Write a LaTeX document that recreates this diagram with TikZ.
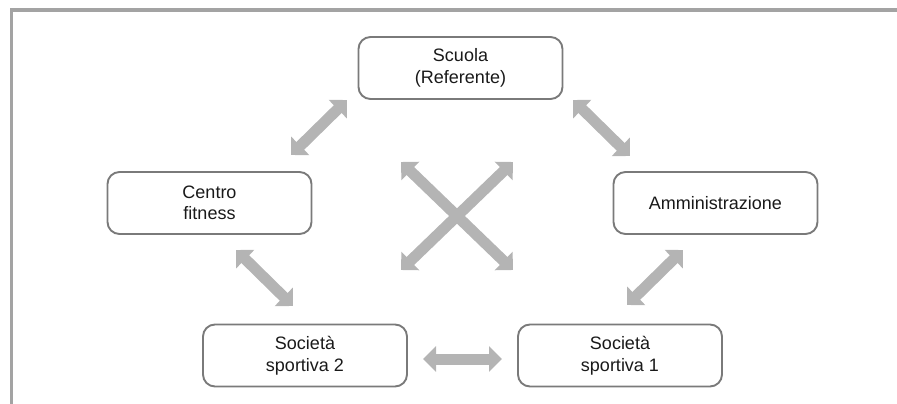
\documentclass[tikz,border=0pt]{standalone}
\usepackage{fontspec}
\setmainfont{Liberation Sans}
\usetikzlibrary{arrows.meta}
\definecolor{framegray}{HTML}{A3A3A3}
\definecolor{boxgray}{HTML}{7A7A7A}
\definecolor{arrowgray}{HTML}{B4B4B4}
\begin{document}
\begin{tikzpicture}[x=1pt,y=-1pt,
  entity/.style={draw=boxgray, line width=1.9pt, rounded corners=12pt,
    minimum width=204pt, minimum height=62pt, align=center,
    font=\fontsize{18}{21.5}\selectfont, text=black!90, inner sep=0pt},
  link/.style={draw=arrowgray, line width=11pt,
    {Triangle[length=13pt,width=25pt]}-{Triangle[length=13pt,width=25pt]}}]
  \useasboundingbox (0,0) rectangle (897,404);

  % open frame: top and left edges
  \draw[framegray, line width=3.5pt] (11.5,404) -- (11.5,10) -- (897,10);

  % organisations
  \node[entity] (scuola) at (460.5,68)  {Scuola\\(Referente)};
  \node[entity] (centro) at (209.5,203) {Centro\\fitness};
  \node[entity] (ammin)  at (715.5,203) {Amministrazione};
  \node[entity] (soc2)   at (305,355.5) {Società\\sportiva 2};
  \node[entity] (soc1)   at (620,355.5) {Società\\sportiva 1};

  % arrow ends
  \coordinate (sc-cf-a) at (347,100);  \coordinate (sc-cf-b) at (291,155);
  \coordinate (sc-am-a) at (573,100);  \coordinate (sc-am-b) at (630,156);
  \coordinate (cf-s2-a) at (236,250);  \coordinate (cf-s2-b) at (293,306);
  \coordinate (am-s1-a) at (683,250);  \coordinate (am-s1-b) at (627,305);
  \coordinate (s2-s1-a) at (423,359);  \coordinate (s2-s1-b) at (502,359);
  \coordinate (cf-s1-a) at (401,162);  \coordinate (cf-s1-b) at (513,270);
  \coordinate (am-s2-a) at (513,162);  \coordinate (am-s2-b) at (401,270);

  % two-way relations
  \draw[link] (sc-cf-a) -- (sc-cf-b);
  \draw[link] (sc-am-a) -- (sc-am-b);
  \draw[link] (cf-s2-a) -- (cf-s2-b);
  \draw[link] (am-s1-a) -- (am-s1-b);
  \draw[link] (s2-s1-a) -- (s2-s1-b);
  \draw[link] (cf-s1-a) -- (cf-s1-b);
  \draw[link] (am-s2-a) -- (am-s2-b);
\end{tikzpicture}
\end{document}
